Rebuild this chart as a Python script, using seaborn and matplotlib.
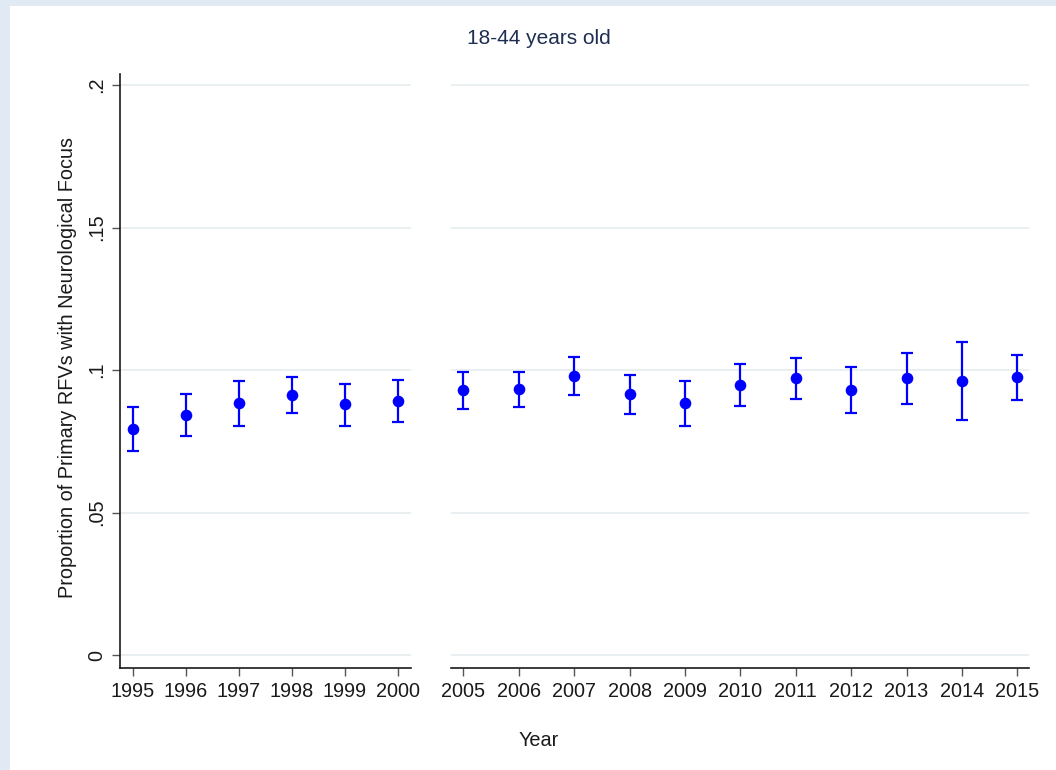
import matplotlib
matplotlib.use("Agg")
import matplotlib.pyplot as plt
import seaborn as sns
import pandas as pd
from matplotlib.patches import Rectangle

# Estimated proportion and 95% CI by survey year
years_early = [1995, 1996, 1997, 1998, 1999, 2000]
prop_early = [0.0792, 0.0841, 0.0883, 0.0913, 0.0880, 0.0891]
lo_early = [0.0716, 0.0767, 0.0805, 0.0849, 0.0805, 0.0818]
hi_early = [0.0869, 0.0915, 0.0961, 0.0975, 0.0952, 0.0965]

years_late = [2005, 2006, 2007, 2008, 2009, 2010, 2011, 2012, 2013, 2014, 2015]
prop_late = [0.0929, 0.0932, 0.0980, 0.0915, 0.0885, 0.0948, 0.0972, 0.0930, 0.0971, 0.0960, 0.0974]
lo_late = [0.0863, 0.0869, 0.0913, 0.0845, 0.0805, 0.0874, 0.0899, 0.0849, 0.0881, 0.0825, 0.0894]
hi_late = [0.0993, 0.0994, 0.1047, 0.0982, 0.0963, 0.1022, 0.1042, 0.1012, 0.1060, 0.1099, 0.1054]

y_ticks = [0, 0.05, 0.1, 0.15, 0.2]
y_tick_labels = ["0", ".05", ".1", ".15", ".2"]

title_text = "18-44 years old"
y_title = "Proportion of Primary RFVs with Neurological Focus"
x_title = "Year"

sns.set_theme(style="white")
plt.rcParams["font.family"] = ["Liberation Sans", "DejaVu Sans"]

W, H = 1056, 770
fig = plt.figure(figsize=(W / 100, H / 100), dpi=100)
fig.patch.set_facecolor("#e1eaf4")
fig.add_artist(Rectangle((10 / W, 0), 1 - 10 / W, 1 - 6 / H, transform=fig.transFigure,
                         facecolor="white", edgecolor="none", zorder=0))

bottom = (H - 668) / H
height = (668 - 74) / H
ax1 = fig.add_axes([120 / W, bottom, (410.7 - 120) / W, height])
ax2 = fig.add_axes([450.7 / W, bottom, (1029 - 450.7) / W, height])

blue = "#0000ff"
grid_col = "#eaf0f2"
ink = "#1a1a1a"
fs = 14.3

panels = [
    (ax1, years_early, prop_early, lo_early, hi_early, (1994.76, 2000.24)),
    (ax2, years_late, prop_late, lo_late, hi_late, (2004.77, 2015.21)),
]

for ax, yrs, p, lo, hi, xl in panels:
    df = pd.DataFrame({"year": yrs, "prop": p, "lo": lo, "hi": hi})
    ax.set_facecolor("none")
    ax.errorbar(df["year"], df["prop"],
                yerr=[df["prop"] - df["lo"], df["hi"] - df["prop"]],
                fmt="none", ecolor=blue, elinewidth=1.6, capsize=4.5, capthick=1.6, zorder=3)
    sns.scatterplot(data=df, x="year", y="prop", ax=ax, color=blue, s=70,
                    edgecolor=blue, linewidth=0, zorder=4)
    ax.set_xlim(*xl)
    ax.set_ylim(-0.00456, 0.2039)
    ax.set_xticks(yrs)
    ax.set_xticklabels([str(y) for y in yrs], fontsize=fs, color=ink)
    for yv in y_ticks:
        ax.axhline(yv, color=grid_col, lw=1.4, zorder=1)
    ax.set_xlabel("")
    ax.set_ylabel("")
    for s in ["top", "right"]:
        ax.spines[s].set_visible(False)
    ax.spines["bottom"].set_color(ink)
    ax.spines["bottom"].set_linewidth(1.2)
    ax.tick_params(axis="x", bottom=True, length=6, width=1, color="#555555", pad=4)

ax1.set_yticks(y_ticks)
ax1.set_yticklabels(y_tick_labels, rotation=90, va="center", fontsize=fs, color=ink)
ax1.tick_params(axis="y", left=True, length=6, width=1, color="#555555", pad=4)
ax1.spines["left"].set_color(ink)
ax1.spines["left"].set_linewidth(1.2)

ax2.spines["left"].set_visible(False)
ax2.set_yticks([])

fig.text(539 / W, 1 - 38 / H, title_text, ha="center", va="center", fontsize=15, color="#1e2d52")
fig.text(68 / W, 1 - 368 / H, y_title, ha="center", va="center", rotation=90, fontsize=fs, color=ink)
fig.text(539 / W, 1 - 741 / H, x_title, ha="center", va="center", fontsize=fs, color=ink)

fig.savefig("out.png", dpi=100)
